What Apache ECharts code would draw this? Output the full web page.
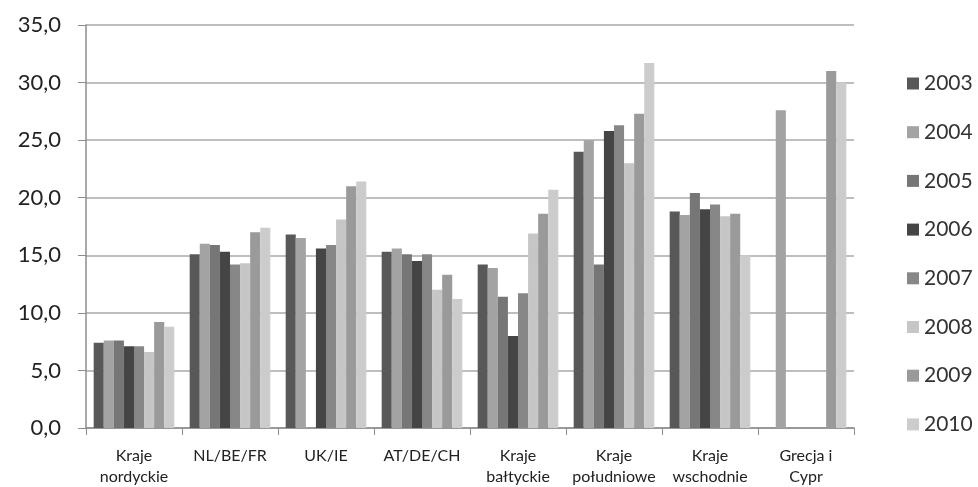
<!DOCTYPE html>
<html>
<head>
<meta charset="utf-8">
<script src="https://cdn.jsdelivr.net/npm/echarts@6/dist/echarts.min.js"></script>
<style>html,body{margin:0;padding:0;background:#fff}#c{width:978px;height:487px}</style>
</head>
<body>
<div id="c"></div>
<script>
const categories = ['Kraje\nnordyckie', 'NL/BE/FR', 'UK/IE', 'AT/DE/CH', 'Kraje\nbałtyckie', 'Kraje\npołudniowe', 'Kraje\nwschodnie', 'Grecja i\nCypr'];
const years = ['2003', '2004', '2005', '2006', '2007', '2008', '2009', '2010'];
const v2003 = [7.4, 15.1, 16.8, 15.3, 14.2, 24.0, 18.8, null];
const v2004 = [7.6, 16.0, 16.5, 15.6, 13.9, 25.0, 18.5, 27.6];
const v2005 = [7.6, 15.9, null, 15.1, 11.4, 14.2, 20.4, null];
const v2006 = [7.1, 15.3, 15.6, 14.5, 8.0, 25.8, 19.0, null];
const v2007 = [7.1, 14.2, 15.9, 15.1, 11.7, 26.3, 19.4, null];
const v2008 = [6.6, 14.3, 18.1, 12.0, 16.9, 23.0, 18.4, null];
const v2009 = [9.2, 17.0, 21.0, 13.3, 18.6, 27.3, 18.6, 31.0];
const v2010 = [8.8, 17.4, 21.4, 11.2, 20.7, 31.7, 15.0, 30.0];
const seriesValues = [v2003, v2004, v2005, v2006, v2007, v2008, v2009, v2010];
const colors = ['#585858', '#a3a3a3', '#767676', '#454545', '#878787', '#c6c6c6', '#9a9a9a', '#cccccc'];

const chart = echarts.init(document.getElementById('c'));
chart.setOption({
  animation: false,
  color: colors,
  textStyle: { fontFamily: 'Lato' },
  grid: { left: 86, right: 124, top: 25, bottom: 57 },
  legend: {
    orient: 'vertical',
    left: 902,
    top: 68,
    itemWidth: 12,
    itemHeight: 12,
    itemGap: 27.7,
    itemTextGap: 5,
    icon: 'rect',
    textStyle: { fontFamily: 'Lato', fontSize: 21, color: '#333', lineHeight: 20 },
    data: years
  },
  xAxis: {
    type: 'category',
    data: categories,
    axisLine: { lineStyle: { color: '#8c8c8c', width: 1.5 } },
    axisTick: { show: true, length: 7, lineStyle: { color: '#8c8c8c' } },
    axisLabel: { interval: 0, fontFamily: 'Lato', fontSize: 16, color: '#222', lineHeight: 21, margin: 17 }
  },
  yAxis: {
    type: 'value',
    min: 0,
    max: 35,
    interval: 5,
    axisLine: { show: true, lineStyle: { color: '#8c8c8c', width: 1.5 } },
    axisTick: { show: true, length: 8, lineStyle: { color: '#8c8c8c' } },
    splitLine: { lineStyle: { color: '#a8a8a8', width: 1.5 } },
    axisLabel: { fontFamily: 'Lato', fontSize: 22, color: '#222', margin: 25, formatter: v => v.toFixed(1).replace('.', ',') }
  },
  series: years.map((y, i) => ({
    name: y,
    type: 'bar',
    data: seriesValues[i],
    barGap: 0,
    barCategoryGap: '16%'
  }))
});
</script>
</body>
</html>
